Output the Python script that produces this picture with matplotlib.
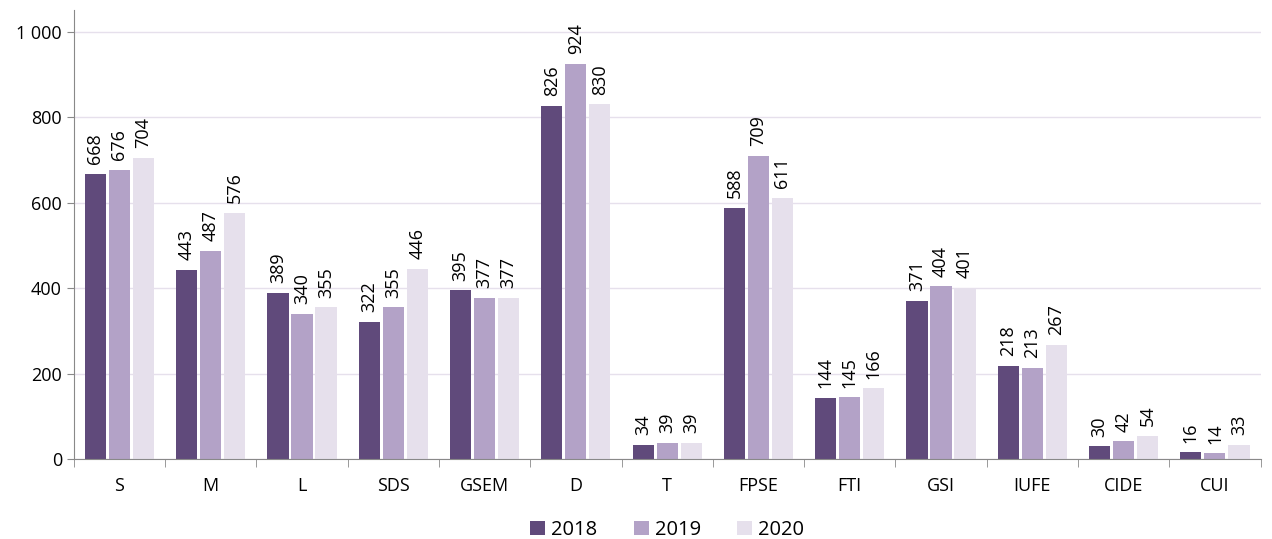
import numpy as np
import matplotlib.pyplot as plt
from matplotlib.ticker import FuncFormatter

plt.rcParams['font.family'] = ['Open Sans', 'DejaVu Sans']

categories = ['S', 'M', 'L', 'SDS', 'GSEM', 'D', 'T', 'FPSE', 'FTI', 'GSI', 'IUFE', 'CIDE', 'CUI']
v2018 = [668, 443, 389, 322, 395, 826, 34, 588, 144, 371, 218, 30, 16]
v2019 = [676, 487, 340, 355, 377, 924, 39, 709, 145, 404, 213, 42, 14]
v2020 = [704, 576, 355, 446, 377, 830, 39, 611, 166, 401, 267, 54, 33]
years = ['2018', '2019', '2020']
colors = ['#604A7B', '#B3A2C7', '#E6E0EC']

fig = plt.figure(figsize=(12.72, 5.39), dpi=100)
ax = fig.add_axes([0.058, 0.148, 0.933, 0.833])

x = np.arange(len(categories))
step = 0.263
w = 0.232
for i, (vals, yr, c) in enumerate(zip([v2018, v2019, v2020], years, colors)):
    bars = ax.bar(x + (i - 1) * step, vals, w, color=c, label=yr, zorder=2)
    for b, v in zip(bars, vals):
        ax.annotate(str(v), (b.get_x() + b.get_width() / 2, v), xytext=(0, 7),
                    textcoords='offset points', rotation=90,
                    ha='center', va='bottom', fontsize=13, color='#000000')

ax.set_xlim(-0.5, len(categories) - 0.5)
ax.set_ylim(0, 1050)
ax.set_yticks([0, 200, 400, 600, 800, 1000])
ax.yaxis.set_major_formatter(FuncFormatter(lambda v, p: f'{int(v):,}'.replace(',', ' ')))
ax.grid(axis='y', color='#E6E0EC', linewidth=1, zorder=0)

ax.set_xticks(x)
ax.set_xticklabels(categories)
ax.set_xticks(np.arange(-0.5, len(categories)), minor=True)
ax.tick_params(axis='x', which='major', length=0, pad=13, labelsize=13)
ax.tick_params(axis='x', which='minor', length=6, color='#898989')
ax.tick_params(axis='y', length=5, color='#898989', labelsize=13)

for s in ['top', 'right']:
    ax.spines[s].set_visible(False)
ax.spines['left'].set_color('#898989')
ax.spines['bottom'].set_color('#898989')

ax.legend(loc='upper center', bbox_to_anchor=(0.5, -0.095), ncol=3, frameon=False,
          fontsize=14.5, handlelength=0.75, handleheight=0.75, handletextpad=0.3,
          columnspacing=1.8)

fig.savefig('out.png', dpi=100)
